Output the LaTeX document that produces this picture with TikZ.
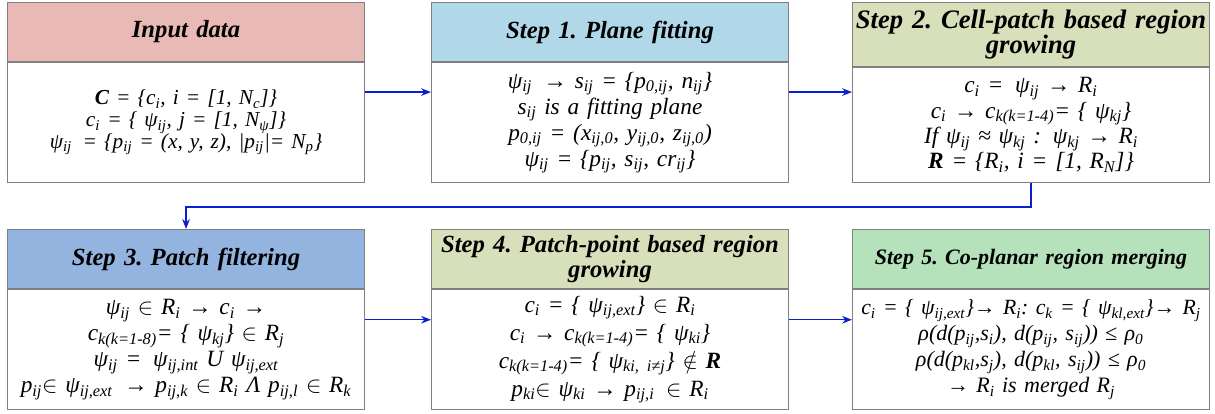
\documentclass[tikz,border=0pt]{standalone}
\usepackage{fontspec}
\setmainfont{Liberation Serif}
\newfontfamily\tnr{Liberation Serif}
\usepackage{tikz}
\usetikzlibrary{arrows.meta,positioning}
\definecolor{hdred}{HTML}{E8B9B5}
\definecolor{hdaqua}{HTML}{B0D8E8}
\definecolor{hdolive}{HTML}{D7E0BA}
\definecolor{hdblue}{HTML}{94B4E0}
\definecolor{hdgreen}{HTML}{B5E2BB}
\definecolor{flowblue}{HTML}{0A1FCF}
\newcommand{\ix}[1]{\textsubscript{#1}}
\frenchspacing

\begin{document}
\begin{tikzpicture}[x=0.75pt,y=-0.75pt,
  hd/.style={draw=black!50,line width=0.8pt,minimum width=267.75pt,inner sep=0pt,align=center,text width=267pt},
  bd/.style={draw=black!50,line width=0.8pt,fill=white,minimum width=267.75pt,minimum height=90pt,inner sep=0pt,align=center,text width=267pt,font=\tnr\fontsize{17.5}{19.5}\selectfont\itshape},
  m/.style={-{Stealth[length=2.6mm,width=2mm]},line width=1.1pt,color=flowblue}]
  \useasboundingbox (0,0) rectangle (1215,414);
  \foreach \i/\x/\y/\hh/\fs/\c/\t in {0/7/2/44.25pt/18.5/hdred/{Input data},
      1/431/2/44.25pt/18.5/hdaqua/{Step 1. Plane fitting},
      2/852/2/48pt/20/hdolive/{Step 2. Cell-patch based region\\growing},
      3/7/229/44.25pt/18.5/hdblue/{Step 3. Patch filtering},
      4/431/229/44.25pt/18.5/hdolive/{Step 4. Patch-point based region\\growing},
      5/852/229/44.25pt/16.5/hdgreen/{Step 5. Co-planar region merging}}
    \node[hd,fill=\c,minimum height=\hh,anchor=north west,
      font=\tnr\fontsize{\fs}{19}\selectfont\bfseries\itshape] (h\i) at (\x,\y) {\t};
  \node[bd,below=0pt of h0,font=\tnr\fontsize{16}{16.3}\selectfont\itshape] (b0) {%
    \textbf{C} = \{c\ix{i}, i = [1, N\ix{c}]\}\\
    c\ix{i} = \{ ψ\ix{ij}, j = [1, N\ix{ψ}]\}\\
    ψ\ix{ij} \,= \{p\ix{ij} = (x, y, z), |p\ix{ij}|= N\ix{p}\}};
  \node[bd,below=0pt of h1] (b1) {%
    ψ\ix{ij} \,→ s\ix{ij} = \{p\ix{0,ij}, n\ix{ij}\}\\
    s\ix{ij} is a fitting plane\\
    p\ix{0,ij} = (x\ix{ij,0}, y\ix{ij,0}, z\ix{ij,0})\\
    ψ\ix{ij} = \{p\ix{ij}, s\ix{ij}, cr\ix{ij}\}};
  \node[bd,below=0pt of h2,minimum height=86.25pt,font=\tnr\fontsize{17.5}{19}\selectfont\itshape] (b2) {%
    c\ix{i} = \,ψ\ix{ij} → R\ix{i}\\
    c\ix{i} → c\ix{k(k=1-4)}= \{ ψ\ix{kj}\}\\
    If ψ\ix{ij} ≈ ψ\ix{kj} : \,ψ\ix{kj} → R\ix{i}\\
    \textbf{R} = \{R\ix{i}, i = [1, R\ix{N}]\}};
  \node[bd,below=0pt of h3] (b3) {%
    ψ\ix{ij} $\in$ R\ix{i} → c\ix{i} →\\
    c\ix{k(k=1-8)}= \{ ψ\ix{kj}\} $\in$ R\ix{j}\\
    ψ\ix{ij} = \,ψ\ix{ij,int} U ψ\ix{ij,ext}\\
    p\ix{ij}$\in$ ψ\ix{ij,ext} \,→ p\ix{ij,k} $\in$ R\ix{i} Λ p\ix{ij,l} $\in$ R\ix{k}};
  \node[bd,below=0pt of h4,font=\tnr\fontsize{17.5}{21}\selectfont\itshape] (b4) {%
    c\ix{i} = \{ ψ\ix{ij,ext}\} $\in$ R\ix{i}\\
    c\ix{i} → c\ix{k(k=1-4)}= \{ ψ\ix{ki}\}\\
    c\ix{k(k=1-4)}= \{ ψ\ix{ki, i≠j}\} $\notin$ \textbf{R}\\
    p\ix{ki}$\in$ ψ\ix{ki} → p\ix{ij,i} \,$\in$ R\ix{i}};
  \node[bd,below=0pt of h5,font=\tnr\fontsize{16.5}{19.5}\selectfont\itshape] (b5) {%
    {\fontsize{16.3}{19.5}\selectfont c\ix{i} = \{ ψ\ix{ij,ext}\}→ R\ix{i}: c\ix{k} = \{ ψ\ix{kl,ext}\}→ R\ix{j}}\\
    ρ(d(p\ix{ij},s\ix{i}), d(p\ix{ij}, s\ix{ij})) ≤ ρ\ix{0}\\
    ρ(d(p\ix{kl},s\ix{j}), d(p\ix{kl}, s\ix{ij})) ≤ ρ\ix{0}\\
    → R\ix{i} is merged R\ix{j}\\[-4pt]};
  % flow between steps
  \draw[m] ([yshift=-22.5pt]b0.north east) coordinate (a0) -- (a0 -| b1.west);
  \draw[m] ([yshift=-22.5pt]b1.north east) coordinate (a1) -- (a1 -| b2.west);
  \draw[m] (b2.south) -- ++(0,24) -| (h3.north);
  \draw[m] ([yshift=-23pt]b3.north east) coordinate (a3) -- (a3 -| b4.west);
  \draw[m] ([yshift=-23pt]b4.north east) coordinate (a4) -- (a4 -| b5.west);
\end{tikzpicture}
\end{document}
